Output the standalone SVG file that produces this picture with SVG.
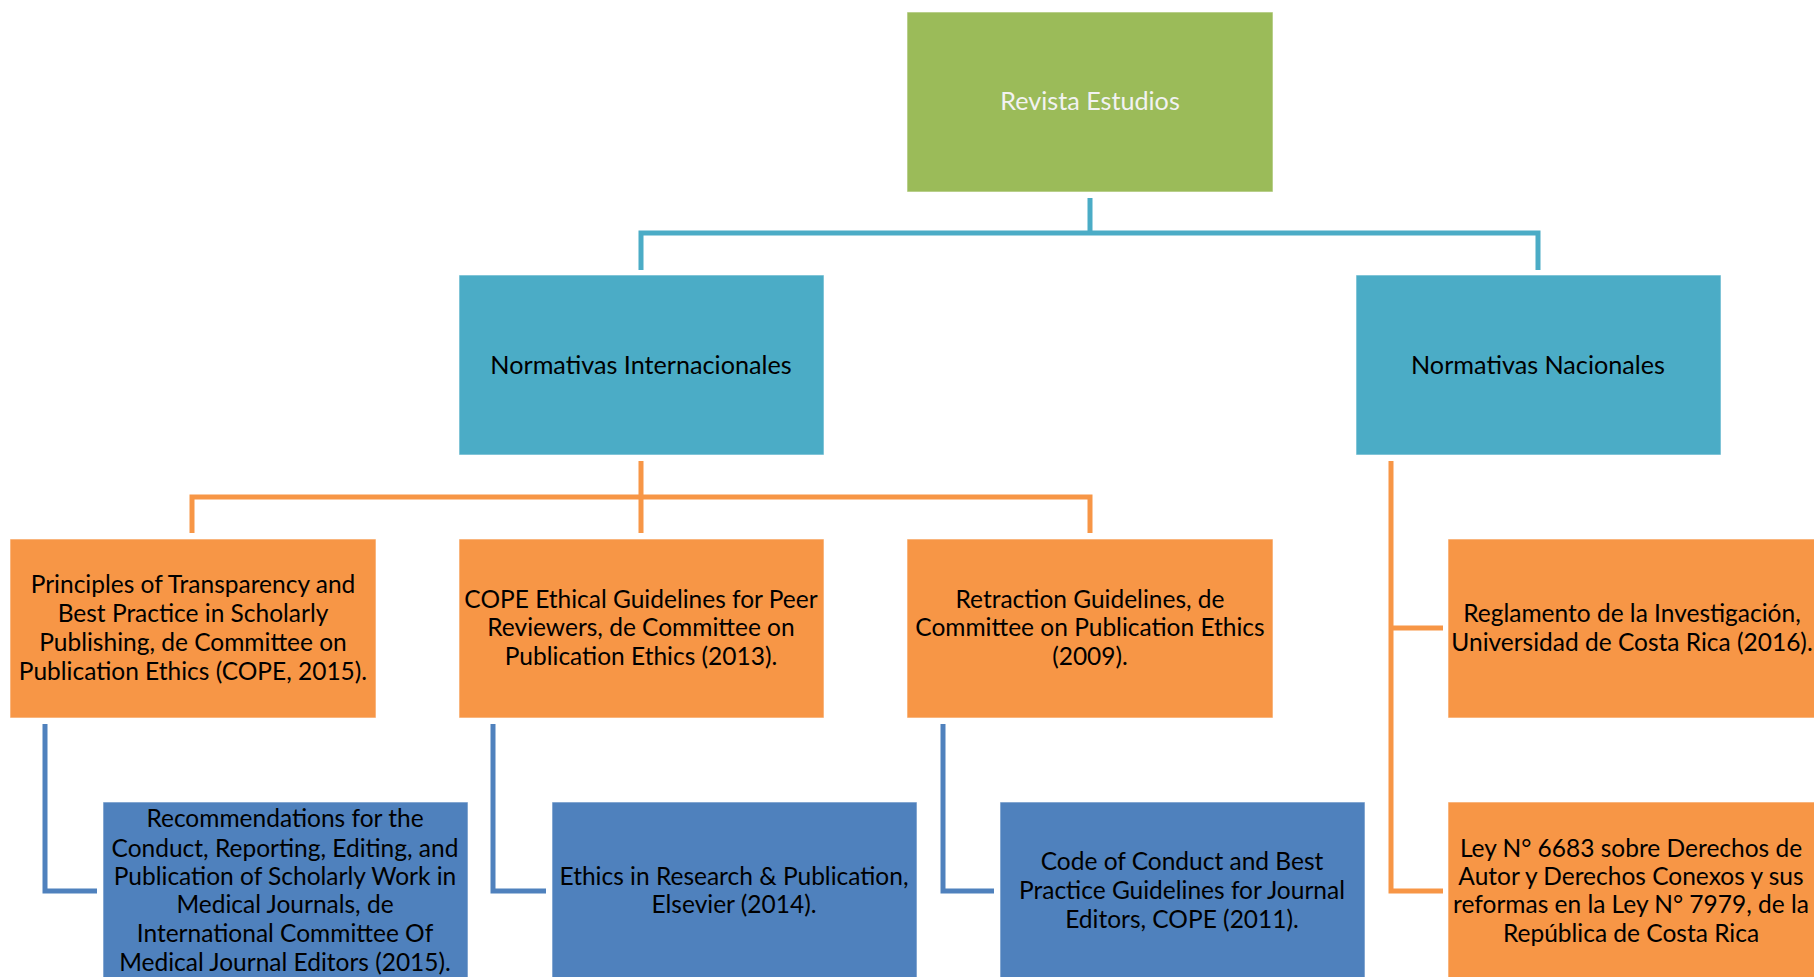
<svg xmlns="http://www.w3.org/2000/svg" width="1814" height="977" viewBox="0 0 1814 977">
<style>
.box{stroke:#ffffff;stroke-opacity:0.6;stroke-width:1}
.g{fill:#9BBB59}.t{fill:#4BACC6}.o{fill:#F79646}.b{fill:#4F81BD}
text{font-family:Lato,"Open Sans","Liberation Sans",sans-serif;font-size:24.5px;fill:#000;text-anchor:middle}
.h{font-size:25.2px}
.w{fill:#F2F2F2}
.c{fill:none;stroke-width:5}
.ct{stroke:#4BACC6}.co{stroke:#F79646}.cb{stroke:#4F81BD}
</style>
<rect width="1814" height="977" fill="#fff"/>
<g id="connectors">
<path class="c ct" d="M1090 198V233M641 270V233H1538V270"/>
<path class="c co" d="M641 461V533M192 533V497H1090V533"/>
<path class="c co" d="M1391 461V891H1443M1391 628H1443"/>
<path class="c cb" d="M45 724V891H97"/>
<path class="c cb" d="M493 724V891H546"/>
<path class="c cb" d="M943 724V891H994"/>
</g>
<g id="root"><rect class="box g" x="907" y="12" width="366" height="180"/><text class="w h" x="1090" y="110">Revista Estudios</text></g>
<g id="intl"><rect class="box t" x="459" y="275" width="365" height="180"/><text class="h" x="641" y="374">Normativas Internacionales</text></g>
<g id="nac"><rect class="box t" x="1356" y="275" width="365" height="180"/><text class="h" x="1538" y="374">Normativas Nacionales</text></g>
<g id="o1"><rect class="box o" x="10" y="539" width="366" height="179"/>
<text x="193" y="593">Principles of Transparency and</text>
<text x="193" y="622">Best Practice in Scholarly</text>
<text x="193" y="651">Publishing, de Committee on</text>
<text x="193" y="680">Publication Ethics (COPE, 2015).</text></g>
<g id="o2"><rect class="box o" x="459" y="539" width="365" height="179"/>
<text x="641" y="608">COPE Ethical Guidelines for Peer</text>
<text x="641" y="636">Reviewers, de Committee on</text>
<text x="641" y="665">Publication Ethics (2013).</text></g>
<g id="o3"><rect class="box o" x="907" y="539" width="366" height="179"/>
<text x="1090" y="608">Retraction Guidelines, de</text>
<text x="1090" y="636">Committee on Publication Ethics</text>
<text x="1090" y="665">(2009).</text></g>
<g id="o4"><rect class="box o" x="1448" y="539" width="370" height="179"/>
<text x="1632" y="622">Reglamento de la Investigación,</text>
<text x="1632" y="651">Universidad de Costa Rica (2016).</text></g>
<g id="o5"><rect class="box o" x="1448" y="802" width="370" height="180"/>
<text x="1631" y="857">Ley N° 6683 sobre Derechos de</text>
<text x="1631" y="885">Autor y Derechos Conexos y sus</text>
<text x="1631" y="913">reformas en la Ley N° 7979, de la</text>
<text x="1631" y="942">República de Costa Rica</text></g>
<g id="b1"><rect class="box b" x="103" y="802" width="365" height="180"/>
<text x="285" y="827">Recommendations for the</text>
<text x="285" y="857">Conduct, Reporting, Editing, and</text>
<text x="285" y="885">Publication of Scholarly Work in</text>
<text x="285" y="913">Medical Journals, de</text>
<text x="285" y="942">International Committee Of</text>
<text x="285" y="971">Medical Journal Editors (2015).</text></g>
<g id="b2"><rect class="box b" x="552" y="802" width="365" height="180"/>
<text x="734" y="885">Ethics in Research &amp; Publication,</text>
<text x="734" y="913">Elsevier (2014).</text></g>
<g id="b3"><rect class="box b" x="1000" y="802" width="365" height="180"/>
<text x="1182" y="870">Code of Conduct and Best</text>
<text x="1182" y="899">Practice Guidelines for Journal</text>
<text x="1182" y="928">Editors, COPE (2011).</text></g>
</svg>
